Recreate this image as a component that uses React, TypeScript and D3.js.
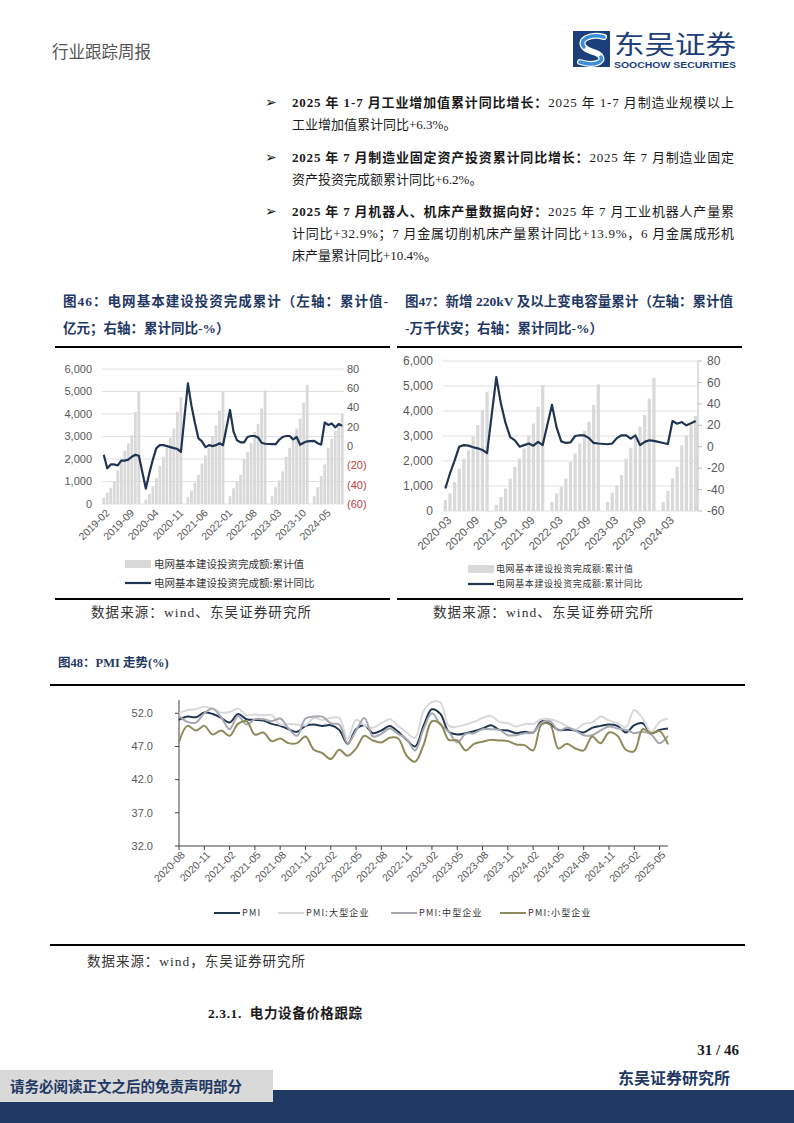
import React, { useEffect, useRef } from 'react';
import * as d3 from 'd3';

const CJK = '"Noto Sans CJK SC", "Noto Sans", sans-serif';
const SERIF_MIX = '"Liberation Serif", "Noto Sans CJK SC", serif';
const SANS = '"Liberation Sans", Arial, "Noto Sans CJK SC", sans-serif';
const NAVY = '#1f3864';
const LINE_NAVY = '#1f3552';
const BAR_GRAY = '#d9d9d9';
const AXIS_TEXT = '#595959';

// ---- 图46: 电网基本建设投资完成额 (亿元, 累计值 / 累计同比 %), 1月无数据 ----
const fig46Bars2019 = [280, 500, 730, 1000, 1500, 2000, 2370, 2700, 3050, 4100, 4980]; // 02..12
const fig46Bars2020 = [200, 450, 800, 1150, 1700, 2100, 2500, 2950, 3350, 4100, 4750];
const fig46Bars2021 = [300, 600, 950, 1300, 1800, 2150, 2500, 3000, 3500, 4150, 5000];
const fig46Bars2022 = [350, 700, 1000, 1300, 2000, 2300, 2700, 3200, 3550, 4250, 5050];
const fig46Bars2023 = [350, 750, 1050, 1450, 2100, 2500, 2900, 3350, 3800, 4500, 5300];
const fig46Bars2024 = [350, 750, 1250, 1750, 2500, 2900, 3250, 3500, 4000]; // 02..10

const fig46Yoy2019 = [-9, -23, -19, -19, -20, -15, -15, -14, -11, -9, -10];
const fig46Yoy2020 = [-44, -28, -14, -2, 1, 1, 0, -1, -2, -3, -6];
const fig46Yoy2021 = [65, 42, 24, 8, 5, -1, 1, 0, 1, 3, 1];
const fig46Yoy2022 = [37.5, 15, 6, 4, 4, 9.5, 10.5, 10.5, 9, 3.5, 2.5];
const fig46Yoy2023 = [2, 2, 6.5, 9.5, 10.5, 10.5, 7, 9.5, 1.5, 3.5, 5];
const fig46Yoy2024 = [5.5, 3, 1.5, 24.5, 22, 23.5, 19.5, 23, 21];

const fig46Ticks = ['2019-02', '2019-09', '2020-04', '2020-11', '2021-06', '2022-01', '2022-08', '2023-03', '2023-10', '2024-05'];

// ---- 图47: 新增220kV及以上变电容量累计 ----
const fig47Bars2020 = [430, 700, 1160, 1700, 2100, 2430, 2970, 3440, 4040, 4770]; // 03..12
const fig47Bars2021 = [250, 560, 900, 1300, 1760, 2100, 2500, 3030, 3500, 4170, 5040];
const fig47Bars2022 = [360, 700, 960, 1300, 1970, 2300, 2700, 3200, 3570, 4240, 5070];
const fig47Bars2023 = [360, 740, 1030, 1430, 2100, 2530, 2900, 3370, 3840, 4500, 5330];
const fig47Bars2024 = [360, 800, 1300, 1760, 2630, 3030, 3440, 3800]; // 02..09

const fig47Yoy2020 = [-39, -25, -13, 0, 1.5, 1, -0.5, -1.5, -3, -6];
const fig47Yoy2021 = [65, 40, 22, 9, 6, 0, 1.5, 3, 1, 4.5, 1.5];
const fig47Yoy2022 = [39, 18, 5, 3.5, 4, 10, 10.7, 10.5, 8, 3.5, 3];
const fig47Yoy2023 = [2.3, 3, 8, 10.7, 10.5, 7.5, 10.5, 1.5, 4.5, 6, 5.5];
const fig47Yoy2024 = [3.5, 2.5, 24, 21.5, 23, 20, 22, 24];

const fig47Ticks = ['2020-03', '2020-09', '2021-03', '2021-09', '2022-03', '2022-09', '2023-03', '2023-09', '2024-03'];

// ---- 图48: PMI (%) 2020-08 ~ 2025-06 ----
const pmiTotal = [51.0, 51.5, 51.4, 52.1, 51.9,
  51.3, 50.6, 51.9, 51.1, 51.0, 50.9, 50.4, 50.1, 49.6, 49.2, 50.1, 50.3,
  50.1, 50.2, 49.5, 47.4, 49.6, 50.2, 49.0, 49.4, 50.1, 49.2, 48.0, 47.0,
  50.1, 52.6, 51.9, 49.2, 48.8, 49.0, 49.3, 49.7, 50.2, 49.5, 49.4, 49.0,
  49.2, 49.1, 50.8, 50.4, 49.5, 49.5, 49.4, 49.1, 49.8, 50.1, 50.3, 50.1,
  49.1, 50.2, 50.5, 49.0, 49.5, 49.7];
const pmiLarge = [52.0, 52.5, 52.6, 53.0, 52.7,
  52.1, 52.2, 52.7, 51.7, 51.8, 51.7, 51.7, 50.3, 50.4, 50.3, 50.2, 51.3,
  51.0, 51.3, 51.3, 48.1, 51.0, 50.2, 49.8, 50.5, 51.1, 50.1, 49.1, 48.3,
  52.3, 53.7, 53.6, 50.1, 50.0, 50.3, 50.7, 51.3, 51.6, 50.7, 50.5, 50.0,
  50.4, 50.4, 51.1, 51.1, 50.7, 50.1, 49.5, 50.4, 50.6, 51.5, 50.9, 50.5,
  49.9, 52.5, 51.2, 49.2, 50.7, 51.2];
const pmiMedium = [51.6, 50.7, 50.6, 52.0, 52.7,
  51.4, 49.6, 51.6, 50.3, 51.1, 51.1, 50.8, 51.2, 49.7, 48.6, 51.2, 51.5,
  51.5, 50.5, 50.3, 47.5, 49.4, 51.3, 48.5, 48.9, 49.7, 48.9, 48.1, 46.4,
  49.6, 52.0, 50.3, 49.2, 47.6, 48.9, 49.0, 49.6, 49.6, 49.5, 48.7, 48.7,
  49.0, 49.1, 50.6, 50.8, 49.4, 49.8, 49.4, 48.7, 48.7, 49.4, 50.0, 49.7,
  49.5, 49.0, 49.2, 48.8, 47.5, 48.6];
const pmiSmall = [47.7, 50.1, 49.4, 50.1, 48.8,
  49.4, 48.6, 50.4, 50.8, 48.8, 49.1, 47.8, 48.2, 47.5, 47.5, 48.5, 46.5,
  46.0, 45.1, 46.5, 45.6, 46.7, 48.6, 47.9, 47.6, 48.3, 48.2, 45.6, 44.7,
  47.2, 50.8, 50.4, 48.0, 47.9, 46.4, 47.4, 47.7, 48.0, 47.9, 47.8, 47.3,
  47.2, 46.4, 50.3, 50.3, 46.7, 47.4, 46.7, 46.4, 48.5, 47.5, 49.1, 48.6,
  46.5, 46.3, 49.6, 49.0, 49.3, 47.3];
const pmiTicks = ['2020-08', '2020-11', '2021-02', '2021-05', '2021-08', '2021-11', '2022-02', '2022-05', '2022-08',
  '2022-11', '2023-02', '2023-05', '2023-08', '2023-11', '2024-02', '2024-05', '2024-08', '2024-11', '2025-02', '2025-05'];
const pmiSeries = [
  { name: 'PMI', values: pmiTotal, color: '#1f3552' },
  { name: 'PMI:大型企业', values: pmiLarge, color: '#d9d9d9' },
  { name: 'PMI:中型企业', values: pmiMedium, color: '#a5a8b0' },
  { name: 'PMI:小型企业', values: pmiSmall, color: '#8e8a5a' },
];

type Row = { label: string; bar: number | null; yoy: number | null };

// one row per month, January left empty (Wind reports Jan-Feb together)
function monthRows(startYear: number, firstMonth: number, bars: number[][], yoy: number[][]): Row[] {
  const rows: Row[] = [];
  bars.forEach((arr, k) => {
    const year = startYear + k;
    if (k > 0) rows.push({ label: `${year}-01`, bar: null, yoy: null });
    const m0 = k === 0 ? firstMonth : 2;
    arr.forEach((v, j) => {
      rows.push({ label: `${year}-${String(m0 + j).padStart(2, '0')}`, bar: v, yoy: yoy[k][j] });
    });
  });
  return rows;
}

const fig46Rows = monthRows(2019, 2,
  [fig46Bars2019, fig46Bars2020, fig46Bars2021, fig46Bars2022, fig46Bars2023, fig46Bars2024],
  [fig46Yoy2019, fig46Yoy2020, fig46Yoy2021, fig46Yoy2022, fig46Yoy2023, fig46Yoy2024]);
const fig47Rows = monthRows(2020, 3,
  [fig47Bars2020, fig47Bars2021, fig47Bars2022, fig47Bars2023, fig47Bars2024],
  [fig47Yoy2020, fig47Yoy2021, fig47Yoy2022, fig47Yoy2023, fig47Yoy2024]);

type DualOpts = {
  x0: number; x1: number; yTop: number; yBottom: number;
  ticks: string[]; pad: number; fontSize: number;
  leftLabelX: number; rightLabelX: number; labelY: number;
  bracketNegatives: boolean; rightAxisLine: boolean;
  legendX: number; legendY: number[]; legendGap: number; legendFont: number; legendSpacing: number;
};

function drawDual(g: d3.Selection<SVGGElement, unknown, null, undefined>, rows: Row[], o: DualOpts) {
  const x = d3.scaleBand().domain(rows.map((r) => r.label)).range([o.x0, o.x1]).padding(0);
  const bw = x.bandwidth();
  const cx = (l: string) => (x(l) as number) + bw / 2;
  const yL = d3.scaleLinear().domain([0, 6000]).range([o.yBottom, o.yTop]);
  const yR = d3.scaleLinear().domain([-60, 80]).range([o.yBottom, o.yTop]);

  // gridlines
  g.append('g')
    .selectAll('line')
    .data(d3.range(0, 6001, 1000))
    .enter()
    .append('line')
    .attr('x1', o.x0)
    .attr('x2', o.x1)
    .attr('y1', (d) => yL(d))
    .attr('y2', (d) => yL(d))
    .attr('stroke', '#d9d9d9')
    .attr('stroke-width', 0.8);

  // bars
  g.append('g')
    .selectAll('rect')
    .data(rows.filter((r) => r.bar != null))
    .enter()
    .append('rect')
    .attr('x', (d) => (x(d.label) as number) + (bw * o.pad) / 2)
    .attr('width', bw * (1 - o.pad))
    .attr('y', (d) => yL(d.bar as number))
    .attr('height', (d) => yL(0) - yL(d.bar as number))
    .attr('fill', BAR_GRAY);

  // right axis line
  if (o.rightAxisLine) {
    g.append('line')
      .attr('x1', o.x1).attr('x2', o.x1)
      .attr('y1', o.yTop).attr('y2', o.yBottom)
      .attr('stroke', '#bfbfbf').attr('stroke-width', 1);
    g.append('g')
      .selectAll('line')
      .data(d3.range(-60, 81, 20))
      .enter()
      .append('line')
      .attr('x1', o.x1).attr('x2', o.x1 + 4)
      .attr('y1', (d) => yR(d)).attr('y2', (d) => yR(d))
      .attr('stroke', '#bfbfbf');
  }

  // yoy line (connects across empty Januaries)
  const line = d3.line<Row>()
    .x((d) => cx(d.label))
    .y((d) => yR(d.yoy as number));
  g.append('path')
    .datum(rows.filter((r) => r.yoy != null))
    .attr('d', line)
    .attr('fill', 'none')
    .attr('stroke', LINE_NAVY)
    .attr('stroke-width', 2.2)
    .attr('stroke-linejoin', 'round');

  // left axis labels
  g.append('g')
    .selectAll('text')
    .data(d3.range(0, 6001, 1000))
    .enter()
    .append('text')
    .attr('x', o.leftLabelX)
    .attr('y', (d) => yL(d))
    .attr('dy', '0.35em')
    .attr('text-anchor', 'end')
    .style('font-family', SANS)
    .style('font-size', o.fontSize + 'px')
    .attr('fill', AXIS_TEXT)
    .text((d) => d3.format(',')(d));

  // right axis labels
  g.append('g')
    .selectAll('text')
    .data(d3.range(-60, 81, 20))
    .enter()
    .append('text')
    .attr('x', o.rightLabelX)
    .attr('y', (d) => yR(d))
    .attr('dy', '0.35em')
    .style('font-family', SANS)
    .style('font-size', o.fontSize + 'px')
    .attr('fill', (d) => (o.bracketNegatives && d < 0 ? '#c23b3b' : AXIS_TEXT))
    .text((d) => (o.bracketNegatives && d < 0 ? `(${-d})` : `${d}`));

  // x labels
  g.append('g')
    .selectAll('text')
    .data(o.ticks)
    .enter()
    .append('text')
    .attr('transform', (d) => `translate(${cx(d) + 4},${o.labelY}) rotate(-45)`)
    .attr('text-anchor', 'end')
    .attr('dy', '0.35em')
    .style('font-family', SANS)
    .style('font-size', o.fontSize - 0.5 + 'px')
    .attr('fill', AXIS_TEXT)
    .text((d) => d);

  // legend
  const lg = g.append('g');
  lg.append('rect')
    .attr('x', o.legendX).attr('y', o.legendY[0] - 4)
    .attr('width', 26).attr('height', 8)
    .attr('fill', BAR_GRAY);
  lg.append('line')
    .attr('x1', o.legendX).attr('x2', o.legendX + 26)
    .attr('y1', o.legendY[1]).attr('y2', o.legendY[1])
    .attr('stroke', LINE_NAVY).attr('stroke-width', 2.2);
  ['电网基本建设投资完成额:累计值', '电网基本建设投资完成额:累计同比'].forEach((t, i) => {
    lg.append('text')
      .attr('x', o.legendX + 26 + o.legendGap)
      .attr('y', o.legendY[i])
      .attr('dy', '0.35em')
      .style('font-family', CJK)
      .style('font-size', o.legendFont + 'px')
      .style('letter-spacing', o.legendSpacing + 'px')
      .attr('fill', '#333')
      .text(t);
  });
}

function drawPmi(g: d3.Selection<SVGGElement, unknown, null, undefined>) {
  const months = d3.timeMonth
    .range(new Date(2020, 7, 1), new Date(2025, 6, 1))
    .map((d) => d3.timeFormat('%Y-%m')(d));
  const x0 = 179;
  const x1 = 668;
  const x = d3.scalePoint().domain(months).range([x0, x1]);
  const y = d3.scaleLinear().domain([32, 54]).range([846, 700]);
  const axisColor = '#404040';

  // axes
  g.append('line').attr('x1', x0).attr('x2', x0).attr('y1', 700).attr('y2', 846)
    .attr('stroke', axisColor);
  g.append('line').attr('x1', x0).attr('x2', x1).attr('y1', 846).attr('y2', 846)
    .attr('stroke', axisColor);
  const yTicks = [32, 37, 42, 47, 52];
  g.append('g').selectAll('line').data(yTicks).enter().append('line')
    .attr('x1', x0 - 4).attr('x2', x0)
    .attr('y1', (d) => y(d)).attr('y2', (d) => y(d))
    .attr('stroke', axisColor);
  g.append('g').selectAll('text').data(yTicks).enter().append('text')
    .attr('x', 153).attr('y', (d) => y(d)).attr('dy', '0.35em')
    .attr('text-anchor', 'end')
    .style('font-family', SANS).style('font-size', '11px')
    .attr('fill', AXIS_TEXT)
    .text((d) => d3.format('.1f')(d));
  g.append('g').selectAll('line').data(pmiTicks).enter().append('line')
    .attr('x1', (d) => x(d) as number).attr('x2', (d) => x(d) as number)
    .attr('y1', 846).attr('y2', 850)
    .attr('stroke', axisColor);
  g.append('g').selectAll('text').data(pmiTicks).enter().append('text')
    .attr('transform', (d) => `translate(${(x(d) as number) + 4},${853}) rotate(-45)`)
    .attr('text-anchor', 'end').attr('dy', '0.35em')
    .style('font-family', SANS).style('font-size', '10.5px')
    .attr('fill', AXIS_TEXT)
    .text((d) => d);

  const line = d3.line<number>()
    .x((_, i) => x(months[i]) as number)
    .y((d) => y(d))
    .curve(d3.curveCatmullRom.alpha(0.5));
  pmiSeries.forEach((s) => {
    g.append('path')
      .datum(s.values)
      .attr('d', line)
      .attr('fill', 'none')
      .attr('stroke', s.color)
      .attr('stroke-width', 2)
      .attr('stroke-linejoin', 'round');
  });

  // legend
  const legendX = [214, 278, 391, 500];
  pmiSeries.forEach((s, i) => {
    g.append('line')
      .attr('x1', legendX[i]).attr('x2', legendX[i] + 26)
      .attr('y1', 913).attr('y2', 913)
      .attr('stroke', s.color).attr('stroke-width', 2);
    g.append('text')
      .attr('x', legendX[i] + 28).attr('y', 913).attr('dy', '0.35em')
      .style('font-family', CJK).style('font-size', '9px')
      .style('letter-spacing', '1.2px')
      .attr('fill', '#333')
      .text(s.name);
  });
}

export default function App() {
  const chartsRef = useRef<SVGGElement>(null);

  useEffect(() => {
    if (!chartsRef.current) return;
    const root = d3.select(chartsRef.current);
    root.selectAll('*').remove();

    drawDual(root.append('g'), fig46Rows, {
      x0: 102, x1: 344, yTop: 369, yBottom: 504, ticks: fig46Ticks, pad: 0.2, fontSize: 11,
      leftLabelX: 92, rightLabelX: 347, labelY: 511, bracketNegatives: true, rightAxisLine: false,
      legendX: 125, legendY: [564, 583], legendGap: 3, legendFont: 10.5, legendSpacing: 0,
    });
    drawDual(root.append('g'), fig47Rows, {
      x0: 443, x1: 698, yTop: 361, yBottom: 511, ticks: fig47Ticks, pad: 0.3, fontSize: 12,
      leftLabelX: 433, rightLabelX: 707, labelY: 518, bracketNegatives: false, rightAxisLine: true,
      legendX: 468, legendY: [569, 584], legendGap: 2, legendFont: 9, legendSpacing: 0.6,
    });
    drawPmi(root.append('g'));
  }, []);

  return (
    <div style={{ position: 'absolute', left: 0, top: 0 }}>
      <svg width={794} height={1123} style={{ display: 'block', background: '#fff' }}>
        {/* header */}
        <text x={52} y={58} fontFamily={CJK} fontSize={16.5} fill="#555">行业跟踪周报</text>
        <g>
          <rect x={573} y={31} width={37} height={36} fill="#1c3f7c" />
          <path d="M604 37 C590 33 578 40 584 47 C589 53 598 51 601 57 C604 63 592 66 580 62"
            fill="none" stroke="#ffffff" strokeWidth={6} strokeLinecap="round" />
          <path d="M604 37 C590 33 578 40 584 47" fill="none" stroke="#3a8fd9" strokeWidth={3.5} strokeLinecap="round" />
          <path d="M601 57 C604 63 592 66 580 62" fill="none" stroke="#3a8fd9" strokeWidth={3.5} strokeLinecap="round" />
          <text x={614} y={54} fontFamily={CJK} fontSize={26} fill="#1e3f7a" textLength={122} lengthAdjust="spacingAndGlyphs">东吴证券</text>
          <text x={614} y={68} fontFamily={SANS} fontWeight="bold" fontSize={9} fill="#1e3f7a" textLength={122} lengthAdjust="spacingAndGlyphs">SOOCHOW SECURITIES</text>
        </g>

        {/* bullets */}
        <g fontFamily={SERIF_MIX} fontSize={13} fill="#1a1a1a">
          {[102, 157, 211].map((yy) => (
            <text key={yy} x={265} y={yy + 5} fontFamily='"DejaVu Sans", sans-serif' fontSize={14}>➢</text>
          ))}
          <text x={292} y={107} textLength={442} lengthAdjust="spacing">
            <tspan fontWeight="bold">2025 年 1-7 月工业增加值累计同比增长：</tspan>2025 年 1-7 月制造业规模以上
          </text>
          <text x={292} y={129}>工业增加值累计同比+6.3%。</text>
          <text x={292} y={162} textLength={442} lengthAdjust="spacing">
            <tspan fontWeight="bold">2025 年 7 月制造业固定资产投资累计同比增长：</tspan>2025 年 7 月制造业固定
          </text>
          <text x={292} y={184}>资产投资完成额累计同比+6.2%。</text>
          <text x={292} y={216} textLength={442} lengthAdjust="spacing">
            <tspan fontWeight="bold">2025 年 7 月机器人、机床产量数据向好：</tspan>2025 年 7 月工业机器人产量累
          </text>
          <text x={292} y={238} textLength={442} lengthAdjust="spacing">计同比+32.9%；7 月金属切削机床产量累计同比+13.9%，6 月金属成形机</text>
          <text x={292} y={260}>床产量累计同比+10.4%。</text>
        </g>

        {/* chart titles */}
        <g fontFamily={SERIF_MIX} fontWeight="bold" fontSize={13.5} fill={NAVY}>
          <text x={63} y={306} textLength={325} lengthAdjust="spacing">图46：电网基本建设投资完成累计（左轴：累计值-</text>
          <text x={63} y={333}>亿元；右轴：累计同比-%）</text>
          <text x={405} y={306} textLength={328} lengthAdjust="spacing">图47：新增 220kV 及以上变电容量累计（左轴：累计值</text>
          <text x={405} y={333}>-万千伏安；右轴：累计同比-%）</text>
          <text x={58} y={667} fontSize={12.5}>图48：PMI 走势(%)</text>
        </g>

        {/* dividers */}
        <g stroke="#000" strokeWidth={2}>
          <line x1={55} x2={390} y1={347} y2={347} />
          <line x1={397} x2={742} y1={347} y2={347} />
          <line x1={55} x2={390} y1={599} y2={599} />
          <line x1={397} x2={743} y1={599} y2={599} />
          <line x1={50} x2={745} y1={685} y2={685} />
          <line x1={50} x2={745} y1={945} y2={945} />
        </g>

        <g ref={chartsRef} />

        {/* sources */}
        <g fontFamily={SERIF_MIX} fontSize={13.5} fill="#333">
          <text x={91} y={617} textLength={220} lengthAdjust="spacing">数据来源：wind、东吴证券研究所</text>
          <text x={433} y={617} textLength={220} lengthAdjust="spacing">数据来源：wind、东吴证券研究所</text>
          <text x={87} y={966} textLength={218} lengthAdjust="spacing">数据来源：wind，东吴证券研究所</text>
        </g>

        {/* section heading */}
        <text x={208} y={1018} fontFamily={SERIF_MIX} fontWeight="bold" fontSize={13.5} fill="#1a1a1a" textLength={154} lengthAdjust="spacing">
          2.3.1.{'\u00a0\u00a0'}电力设备价格跟踪
        </text>

        {/* page number & footer */}
        <text x={739} y={1055} textAnchor="end" fontFamily={SERIF_MIX} fontWeight="bold" fontSize={15} fill="#1a1a1a">31{'\u00a0'}/{'\u00a0'}46</text>
        <text x={730} y={1084} textAnchor="end" fontFamily={CJK} fontWeight="bold" fontSize={16} fill={NAVY}>东吴证券研究所</text>
        <rect x={0} y={1090} width={794} height={33} fill="#1f3864" />
        <rect x={0} y={1070} width={273} height={32} fill="#d9d9d9" />
        <text x={10} y={1092} fontFamily={CJK} fontWeight="bold" fontSize={14.5} fill={NAVY}>请务必阅读正文之后的免责声明部分</text>
      </svg>
    </div>
  );
}
